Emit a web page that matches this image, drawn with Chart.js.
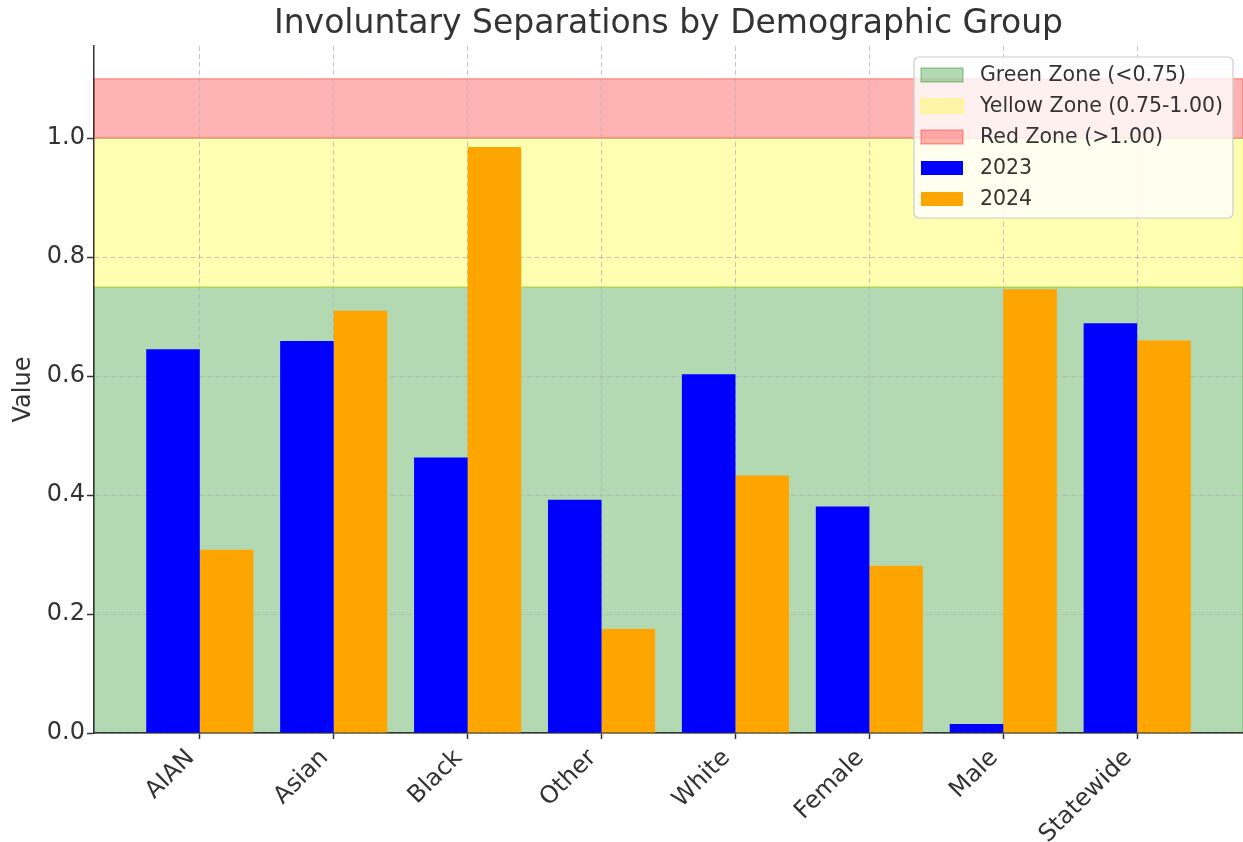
<!DOCTYPE html>
<html>
<head>
<meta charset="utf-8">
<title>Involuntary Separations by Demographic Group</title>
<script src="https://cdn.jsdelivr.net/npm/chart.js@4"></script>
<style>
  html, body { margin: 0; padding: 0; background: #ffffff; }
  #wrap { width: 1243px; height: 842px; position: relative; }
</style>
</head>
<body>
<div id="wrap"><canvas id="sepChart"></canvas></div>
<script>
// data
const categories = ['AIAN', 'Asian', 'Black', 'Other', 'White', 'Female', 'Male', 'Statewide'];
const values2023 = [0.645, 0.659, 0.463, 0.392, 0.603, 0.381, 0.015, 0.689];
const values2024 = [0.308, 0.710, 0.985, 0.175, 0.433, 0.281, 0.746, 0.660];
const seriesNames = ['2023', '2024'];
const seriesColors = ['#0000ff', '#ffa500'];
const yTicks = [0, 0.2, 0.4, 0.6, 0.8, 1.0];

// threshold zones
const zoneNames = ['Green Zone (<0.75)', 'Yellow Zone (0.75-1.00)', 'Red Zone (>1.00)'];
const zoneLower = [0, 0.75, 1.0];
const zoneUpper = [0.75, 1.0, 1.1];
const zoneRgb = ['0,128,0', '255,255,0', '255,0,0'];

const textColor = '#333333';
const gridColor = 'rgba(176,176,176,0.75)';
Chart.defaults.font.family = "'DejaVu Sans', sans-serif";
Chart.defaults.color = textColor;

// axis limits like matplotlib's 5% margins
const barGroup = 0.8;
const xPad = 0.05 * (categories.length - 1 + barGroup);
const xMin = -barGroup / 2 - xPad;
const xMax = categories.length - 1 + barGroup / 2 + xPad;
const yMax = Math.max(...zoneUpper) * 1.05;

// draw the coloured zones under the grid
const zonesPlugin = {
    id: 'zones',
    beforeDraw(chart) {
        const ctx = chart.ctx;
        const area = chart.chartArea;
        const y = chart.scales.y;
        ctx.save();
        for (let i = 0; i < zoneNames.length; i++) {
            const top = y.getPixelForValue(zoneUpper[i]);
            const bottom = y.getPixelForValue(zoneLower[i]);
            ctx.fillStyle = 'rgba(' + zoneRgb[i] + ',0.3)';
            ctx.fillRect(area.left, top, area.right - area.left, bottom - top);
            ctx.strokeStyle = 'rgba(' + zoneRgb[i] + ',0.3)';
            ctx.lineWidth = 1.5;
            ctx.strokeRect(area.left, top, area.right - area.left, bottom - top);
        }
        ctx.restore();
    }
};

// title centred over the plot area, legend box in the top right corner
const decorPlugin = {
    id: 'decor',
    afterDraw(chart) {
        const ctx = chart.ctx;
        const area = chart.chartArea;
        ctx.save();
        ctx.fillStyle = textColor;
        ctx.font = "33px 'DejaVu Sans'";
        ctx.textAlign = 'center';
        ctx.textBaseline = 'middle';
        ctx.fillText('Involuntary Separations by Demographic Group', (area.left + area.right) / 2, 24);

        const items = [];
        for (let i = 0; i < zoneNames.length; i++) {
            items.push({ text: zoneNames[i], fill: 'rgba(' + zoneRgb[i] + ',0.3)', edge: 'rgba(' + zoneRgb[i] + ',0.3)' });
        }
        chart.data.datasets.forEach(function(ds) {
            items.push({ text: ds.label, fill: ds.backgroundColor, edge: null });
        });

        ctx.font = "20.5px 'DejaVu Sans'";
        let maxW = 0;
        items.forEach(function(it) { maxW = Math.max(maxW, ctx.measureText(it.text).width); });
        const rowH = 31;
        const w = 66 + maxW + 10;
        const h = items.length * rowH + 6;
        const lx = area.right - 10 - w;
        const ly = area.top + 11;

        ctx.beginPath();
        ctx.roundRect(lx, ly, w, h, 5);
        ctx.fillStyle = 'rgba(255,255,255,0.8)';
        ctx.fill();
        ctx.strokeStyle = '#cccccc';
        ctx.lineWidth = 1.2;
        ctx.stroke();

        ctx.textAlign = 'left';
        items.forEach(function(it, k) {
            const cy = ly + 18 + k * rowH;
            ctx.fillStyle = it.fill;
            ctx.fillRect(lx + 7, cy - 7, 42, 14);
            if (it.edge) {
                ctx.strokeStyle = it.edge;
                ctx.lineWidth = 1.5;
                ctx.strokeRect(lx + 7, cy - 7, 42, 14);
            }
            ctx.fillStyle = textColor;
            ctx.fillText(it.text, lx + 66, cy + 1);
        });
        ctx.restore();
    }
};

const ctx = document.getElementById('sepChart').getContext('2d');
const sepChart = new Chart(ctx, {
    type: 'bar',
    data: {
        datasets: [
            {
                label: seriesNames[0],
                data: categories.map(function(c, i) { return { x: i, y: values2023[i] }; }),
                backgroundColor: seriesColors[0],
                categoryPercentage: barGroup,
                barPercentage: 1.0,
                borderWidth: 0
            },
            {
                label: seriesNames[1],
                data: categories.map(function(c, i) { return { x: i, y: values2024[i] }; }),
                backgroundColor: seriesColors[1],
                categoryPercentage: barGroup,
                barPercentage: 1.0,
                borderWidth: 0
            }
        ]
    },
    options: {
        responsive: true,
        maintainAspectRatio: false,
        animation: false,
        layout: { padding: { top: 46, left: 0, right: 0, bottom: 0 } },
        plugins: {
            legend: { display: false },
            title: { display: false },
            tooltip: { enabled: false }
        },
        scales: {
            x: {
                type: 'linear',
                min: xMin,
                max: xMax,
                offset: false,
                afterBuildTicks: function(scale) {
                    scale.ticks = categories.map(function(c, i) { return { value: i }; });
                },
                afterFit: function(scale) { scale.height = 109; },
                ticks: {
                    callback: function(v) { return categories[v]; },
                    font: { size: 24 },
                    color: textColor,
                    minRotation: 45,
                    maxRotation: 45,
                    autoSkip: false,
                    padding: 5,
                    labelOffset: -9
                },
                grid: {
                    color: gridColor,
                    lineWidth: 1,
                    tickLength: 6,
                    tickColor: textColor,
                    tickWidth: 1.5,
                    offset: false
                },
                border: { color: textColor, width: 1.5, dash: [5, 3] }
            },
            y: {
                min: 0,
                max: yMax,
                afterBuildTicks: function(scale) {
                    scale.ticks = yTicks.map(function(v) { return { value: v }; });
                },
                afterFit: function(scale) { scale.width = 94; },
                ticks: {
                    callback: function(v) { return v.toFixed(1); },
                    font: { size: 24 },
                    color: textColor,
                    padding: 2
                },
                title: {
                    display: true,
                    text: 'Value',
                    font: { size: 24 },
                    color: textColor,
                    padding: { top: 9, bottom: 0 }
                },
                grid: {
                    color: gridColor,
                    lineWidth: 1,
                    tickLength: 7,
                    tickColor: textColor,
                    tickWidth: 1.5
                },
                border: { color: textColor, width: 1.5, dash: [5, 3] }
            }
        }
    },
    plugins: [zonesPlugin, decorPlugin]
});
</script>
</body>
</html>
